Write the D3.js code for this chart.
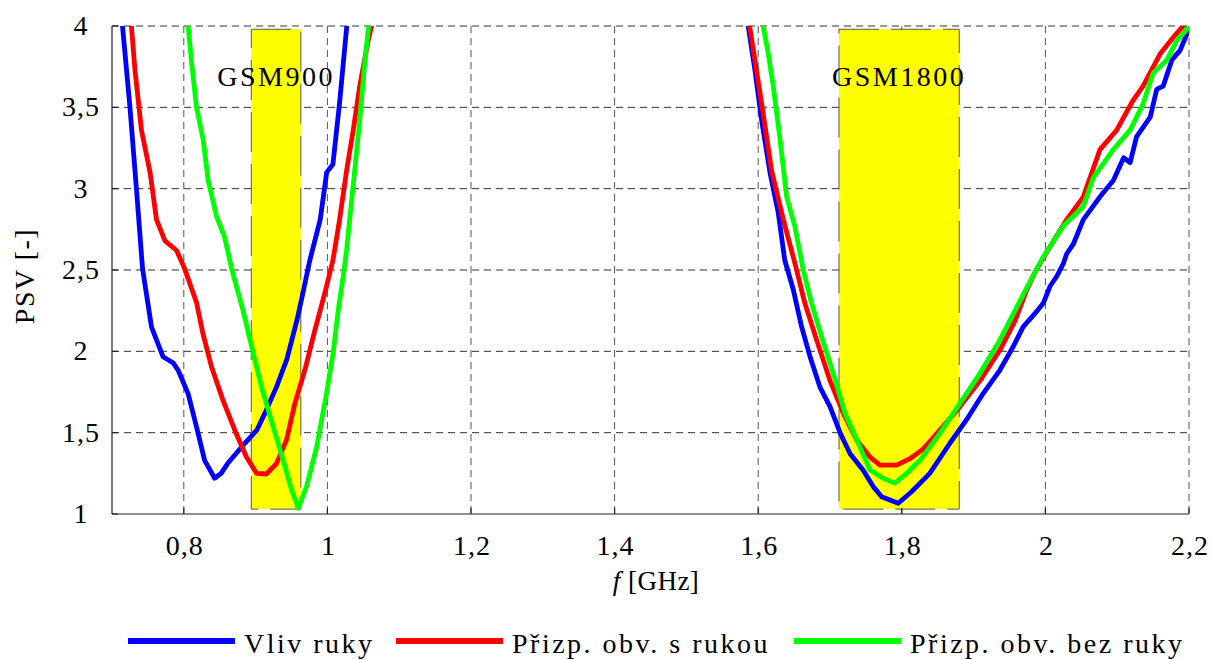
<!DOCTYPE html>
<html>
<head>
<meta charset="utf-8">
<script src="https://cdn.jsdelivr.net/npm/d3@7"></script>
<style>
  html, body { margin: 0; padding: 0; background: #fff; }
  svg { display: block; font-family: "Liberation Serif", "Times New Roman", serif; }
</style>
</head>
<body>
<svg id="chart" width="1212" height="660"></svg>
<script>
// Frequency axis ticks [GHz] and PSV ticks
const xTicks = [0.8, 1.0, 1.2, 1.4, 1.6, 1.8, 2.0, 2.2];
const yTicks = [1, 1.5, 2, 2.5, 3, 3.5, 4];

// GSM bands [GHz]
const bandNames = ["GSM900", "GSM1800"];
const bandStart = [0.894, 1.7125];
const bandEnd = [0.963, 1.88];
const bandLow = 1.03;
const bandHigh = 3.98;

// Vliv ruky – measured PSV, lower and upper band
const blueF1 = [0.712, 0.7146, 0.725, 0.734, 0.7425, 0.755, 0.771, 0.785, 0.792, 0.806, 0.818, 0.829, 0.843, 0.852, 0.861, 0.882, 0.9017, 0.913, 0.929, 0.9435, 0.9575, 0.966, 0.975, 0.99, 0.999, 1.0077, 1.017, 1.027, 1.030];
const blueV1 = [4.1, 4.0, 3.5, 3.0, 2.51, 2.15, 1.967, 1.93, 1.885, 1.74, 1.53, 1.33, 1.22, 1.25, 1.31, 1.42, 1.515, 1.62, 1.78, 1.95, 2.19, 2.36, 2.55, 2.81, 3.1, 3.15, 3.53, 4.0, 4.15];
const blueF2 = [1.584, 1.586, 1.5954, 1.6048, 1.6164, 1.628, 1.637, 1.6488, 1.6605, 1.672, 1.686, 1.70, 1.714, 1.728, 1.746, 1.760, 1.772, 1.795, 1.8137, 1.839, 1.867, 1.890, 1.9135, 1.9367, 1.9553, 1.969, 1.985, 1.997, 2.0064, 2.0157, 2.025, 2.0297, 2.039, 2.0528, 2.076, 2.0946, 2.109, 2.118, 2.127, 2.146, 2.155, 2.164, 2.176, 2.1876, 2.197, 2.2];
const blueV2 = [4.1, 4.0, 3.73, 3.42, 3.1, 2.85, 2.56, 2.38, 2.15, 1.97, 1.78, 1.66, 1.50, 1.37, 1.27, 1.17, 1.106, 1.066, 1.137, 1.25, 1.435, 1.578, 1.742, 1.885, 2.03, 2.15, 2.23, 2.295, 2.40, 2.46, 2.54, 2.60, 2.66, 2.81, 2.95, 3.05, 3.19, 3.16, 3.32, 3.44, 3.61, 3.63, 3.79, 3.85, 3.95, 4.0];

// Přizp. obv. s rukou
const redF1 = [0.725, 0.727, 0.732, 0.741, 0.753, 0.762, 0.7736, 0.79, 0.801, 0.8177, 0.8266, 0.8386, 0.8545, 0.871, 0.8873, 0.9013, 0.915, 0.929, 0.943, 0.9547, 0.9686, 0.9826, 0.9965, 1.0077, 1.017, 1.0267, 1.036, 1.045, 1.0568, 1.0615, 1.064];
const redV1 = [4.1, 4.0, 3.73, 3.36, 3.1, 2.81, 2.68, 2.62, 2.51, 2.30, 2.11, 1.905, 1.70, 1.515, 1.35, 1.25, 1.246, 1.31, 1.455, 1.68, 1.885, 2.13, 2.36, 2.56, 2.81, 3.11, 3.36, 3.63, 3.91, 4.0, 4.1];
const redF2 = [1.586, 1.588, 1.5954, 1.607, 1.6187, 1.635, 1.6512, 1.665, 1.6814, 1.70, 1.7185, 1.737, 1.7556, 1.7696, 1.7928, 1.8114, 1.83, 1.853, 1.881, 1.909, 1.9367, 1.958, 1.974, 1.986, 2.006, 2.0297, 2.0528, 2.076, 2.0993, 2.1224, 2.136, 2.160, 2.178, 2.192, 2.2];
const redV2 = [4.1, 4.0, 3.79, 3.46, 3.11, 2.81, 2.54, 2.295, 2.07, 1.82, 1.62, 1.455, 1.35, 1.30, 1.30, 1.34, 1.40, 1.516, 1.66, 1.82, 2.008, 2.19, 2.377, 2.49, 2.64, 2.81, 2.95, 3.24, 3.36, 3.545, 3.63, 3.83, 3.93, 4.0, 4.08];

// Přizp. obv. bez ruky
const greenF1 = [0.804, 0.806, 0.811, 0.8177, 0.827, 0.834, 0.8456, 0.857, 0.8665, 0.8826, 0.8966, 0.9083, 0.9244, 0.9384, 0.95, 0.9593, 0.971, 0.985, 0.9988, 1.008, 1.015, 1.022, 1.0267, 1.031, 1.038, 1.045, 1.052, 1.057, 1.059];
const greenV1 = [4.1, 4.0, 3.77, 3.5, 3.3, 3.05, 2.83, 2.70, 2.51, 2.25, 1.99, 1.78, 1.537, 1.33, 1.15, 1.035, 1.17, 1.41, 1.74, 1.99, 2.25, 2.46, 2.62, 2.81, 3.11, 3.42, 3.77, 3.98, 4.1];
const greenF2 = [1.605, 1.607, 1.614, 1.621, 1.630, 1.6396, 1.651, 1.6627, 1.6744, 1.6884, 1.7045, 1.7208, 1.7394, 1.7556, 1.774, 1.790, 1.8068, 1.8253, 1.853, 1.881, 1.909, 1.9367, 1.953, 1.974, 1.997, 2.025, 2.0528, 2.067, 2.0946, 2.118, 2.136, 2.150, 2.169, 2.183, 2.199, 2.2];
const greenV2 = [4.1, 4.0, 3.83, 3.63, 3.32, 2.95, 2.77, 2.50, 2.295, 2.09, 1.865, 1.62, 1.435, 1.27, 1.22, 1.19, 1.25, 1.33, 1.496, 1.68, 1.865, 2.07, 2.21, 2.39, 2.58, 2.77, 2.89, 3.07, 3.24, 3.36, 3.52, 3.71, 3.79, 3.91, 3.99, 4.0];

const seriesNames = ["Vliv ruky", "Přizp. obv. s rukou", "Přizp. obv. bez ruky"];
const seriesColors = ["#0000ff", "#ff0000", "#00ff00"];

const series = [
  { segs: [[blueF1, blueV1], [blueF2, blueV2]] },
  { segs: [[redF1, redV1], [redF2, redV2]] },
  { segs: [[greenF1, greenV1], [greenF2, greenV2]] }
];

const svg = d3.select("#chart");
const plotL = 112, plotR = 1189, plotT = 26, plotB = 514;

const x = d3.scaleLinear().domain([0.7, 2.2]).range([plotL, plotR]);
const y = d3.scaleLinear().domain([1, 4]).range([plotB, plotT]);
const fmt = v => String(v).replace(".", ",");

svg.append("defs").append("clipPath").attr("id", "plotClip")
  .append("rect").attr("x", plotL).attr("y", plotT)
  .attr("width", plotR - plotL).attr("height", plotB - plotT);

// dashed grid
const grid = svg.append("g").attr("stroke", "#333").attr("stroke-width", 1)
  .attr("stroke-dasharray", "7,5").attr("fill", "none");
grid.selectAll("line.h").data(yTicks.filter(t => t > 1)).join("line")
  .attr("class", "h")
  .attr("x1", plotL).attr("x2", plotR)
  .attr("y1", d => y(d)).attr("y2", d => y(d));
grid.selectAll("line.v").data(xTicks).join("line")
  .attr("class", "v")
  .attr("stroke", "#555")
  .attr("y1", plotT).attr("y2", plotB)
  .attr("x1", d => x(d)).attr("x2", d => x(d));

// frequency bands
const bands = svg.append("g");
bandNames.forEach((name, i) => {
  bands.append("rect")
    .attr("x", x(bandStart[i])).attr("y", y(bandHigh))
    .attr("width", x(bandEnd[i]) - x(bandStart[i]))
    .attr("height", y(bandLow) - y(bandHigh))
    .attr("fill", "#ffff00")
    .attr("stroke", "#555").attr("stroke-width", 1)
    .attr("stroke-dasharray", "40,12");
  bands.append("text")
    .attr("x", (x(bandStart[i]) + x(bandEnd[i])) / 2)
    .attr("y", 86)
    .attr("text-anchor", "middle")
    .attr("font-size", 28)
    .attr("letter-spacing", 2.5)
    .attr("fill", "#000")
    .text(name);
});

// axes
const axes = svg.append("g").attr("stroke", "#222").attr("stroke-width", 1.2);
axes.append("line").attr("x1", plotL).attr("x2", plotL).attr("y1", plotT).attr("y2", plotB);
axes.append("line").attr("x1", plotL).attr("x2", plotR).attr("y1", plotB).attr("y2", plotB);
axes.selectAll("line.xt").data(xTicks).join("line")
  .attr("class", "xt")
  .attr("x1", d => x(d)).attr("x2", d => x(d))
  .attr("y1", plotB).attr("y2", plotB - 6);
axes.selectAll("line.yt").data(yTicks).join("line")
  .attr("class", "yt")
  .attr("x1", plotL).attr("x2", plotL + 6)
  .attr("y1", d => y(d)).attr("y2", d => y(d));

// tick labels
svg.append("g").selectAll("text").data(xTicks).join("text")
  .attr("x", d => x(d) + 1).attr("y", 555)
  .attr("text-anchor", "middle").attr("font-size", 28).attr("letter-spacing", 1)
  .text(d => fmt(d));
svg.append("g").selectAll("text").data(yTicks).join("text")
  .attr("x", 81).attr("y", d => y(d) + 9)
  .attr("text-anchor", "middle").attr("font-size", 28).attr("letter-spacing", 1)
  .text(d => fmt(d));

// axis titles
const xt = svg.append("text").attr("x", 656).attr("y", 590)
  .attr("text-anchor", "middle").attr("font-size", 27).attr("letter-spacing", 0.5);
xt.append("tspan").attr("font-style", "italic").text("f");
xt.append("tspan").text(" [GHz]");
svg.append("text")
  .attr("transform", `translate(34,${(plotT + plotB) / 2 + 6}) rotate(-90)`)
  .attr("text-anchor", "middle").attr("font-size", 28).attr("letter-spacing", 1.5)
  .text("PSV [-]");

// curves
const line = d3.line().x(d => x(d[0])).y(d => y(d[1]));
const curves = svg.append("g").attr("clip-path", "url(#plotClip)");
series.forEach((s, i) => {
  s.segs.forEach(([fs, vs]) => {
    curves.append("path")
      .datum(fs.map((f, k) => [f, vs[k]]))
      .attr("d", line)
      .attr("fill", "none")
      .attr("stroke", seriesColors[i])
      .attr("stroke-width", 4.8)
      .attr("stroke-linejoin", "round");
  });
});

// legend
const legendLineX = [128, 396, 794];
const legend = svg.append("g");
seriesNames.forEach((name, i) => {
  legend.append("line")
    .attr("x1", legendLineX[i]).attr("x2", legendLineX[i] + 107)
    .attr("y1", 641).attr("y2", 641)
    .attr("stroke", seriesColors[i]).attr("stroke-width", 6);
  legend.append("text")
    .attr("x", legendLineX[i] + 116).attr("y", 653)
    .attr("font-size", 28).attr("letter-spacing", 2.5)
    .text(name);
});
</script>
</body>
</html>
